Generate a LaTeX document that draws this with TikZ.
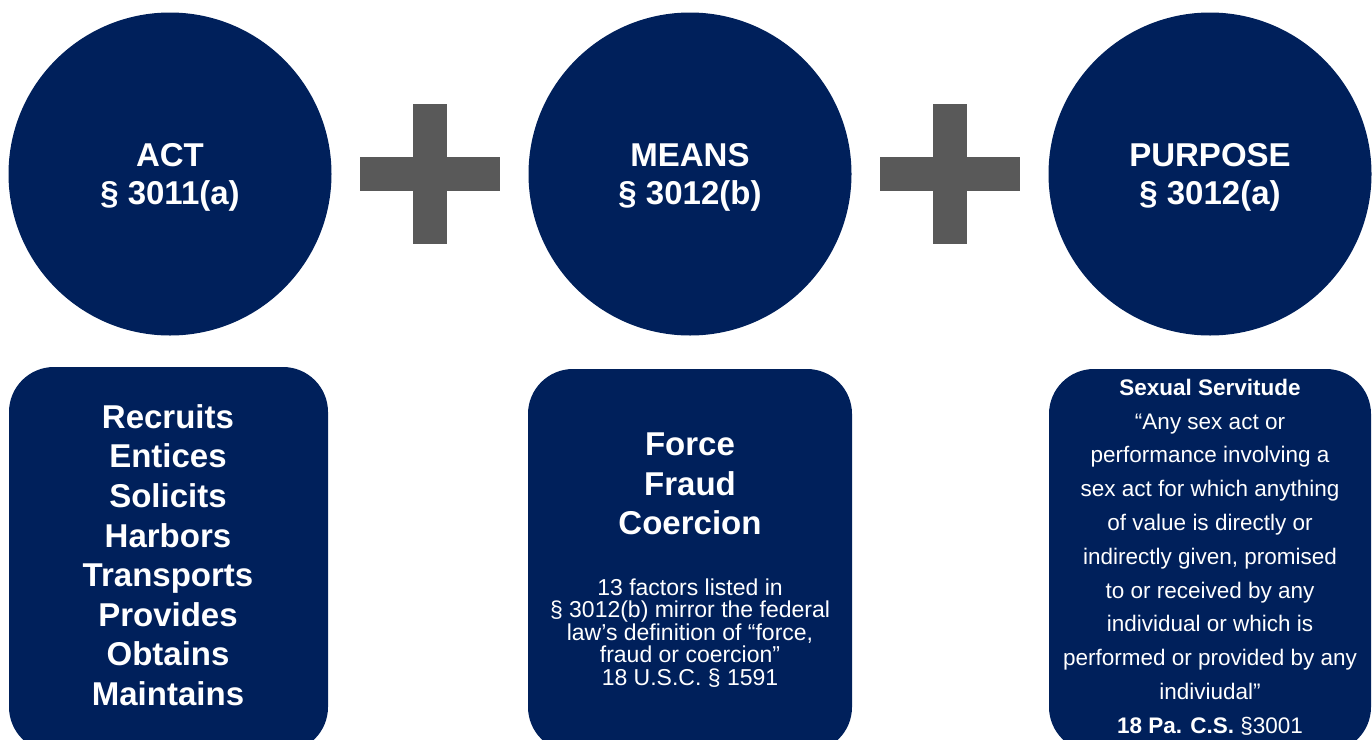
\documentclass[tikz,border=0pt]{standalone}
\usepackage{fontspec}
\setmainfont{Liberation Sans}
\definecolor{navy}{RGB}{0,32,91}
\definecolor{plusgray}{RGB}{89,89,89}
\begin{document}
\begin{tikzpicture}[x=1pt,y=-1pt,
  circ/.style={circle,fill=navy,minimum size=323pt,inner sep=0pt},
  circtxt/.style={text=white,align=center,inner sep=0pt,
    font=\fontsize{33}{38}\selectfont\bfseries},
  panel/.style={fill=navy,rounded corners=45pt,draw=none},
  bigtxt/.style={text=white,align=center,inner sep=0pt,font=\fontsize{33}{39.6}\selectfont\bfseries},
  smalltxt/.style={text=white,align=center,inner sep=0pt,font=\fontsize{23}{22.5}\selectfont},
  purtxt/.style={text=white,align=center,inner sep=0pt,font=\fontsize{22.5}{33.8}\selectfont},
  plusbar/.style={fill=plusgray}]
\useasboundingbox (0,0) rectangle (1372,739);
\clip (0,0) rectangle (1372,739);
% circles
\node[circ] (act) at (170,174) {};
\node[circ] (means) at (690,174) {};
\node[circ] (purpose) at (1210,174) {};
\node[circtxt] (acttxt) at ([yshift=-3pt]act.center) {ACT\\§ 3011(a)};
\node[circtxt] (meanstxt) at ([yshift=-3pt]means.center) {MEANS\\§ 3012(b)};
\node[circtxt] (purposetxt) at ([yshift=-3pt]purpose.center) {PURPOSE\\§ 3012(a)};
% plus signs
\fill[plusbar] (360,157) rectangle (500,191);
\fill[plusbar] (413,104) rectangle (447,244);
\fill[plusbar] (880,157) rectangle (1020,191);
\fill[plusbar] (933,104) rectangle (967,244);
% panels
\fill[panel] (9,367) rectangle (328,752);
\fill[panel] (528,369) rectangle (852,752);
\fill[panel] (1049,369) rectangle (1371,752);
% texts
\node[bigtxt] (acts) at (168,555) {Recruits\\Entices\\Solicits\\Harbors\\Transports\\Provides\\Obtains\\Maintains};
\node[bigtxt] (ffc) at (690,484) {Force\\Fraud\\Coercion};
\node[smalltxt] (factors) at (690,633) {13 factors listed in\\§ 3012(b) mirror the federal\\law’s definition of “force,\\fraud or coercion”\\18 U.S.C. § 1591};
\node[purtxt] (servitude) at (1210,557) {\textbf{Sexual Servitude}\\“Any sex act or\\performance involving a\\sex act for which anything\\of value is directly or\\indirectly given, promised\\to or received by any\\individual or which is\\performed or provided by any\\indiviudal”\\\textbf{18 Pa. C.S.} §3001};
\end{tikzpicture}
\end{document}
